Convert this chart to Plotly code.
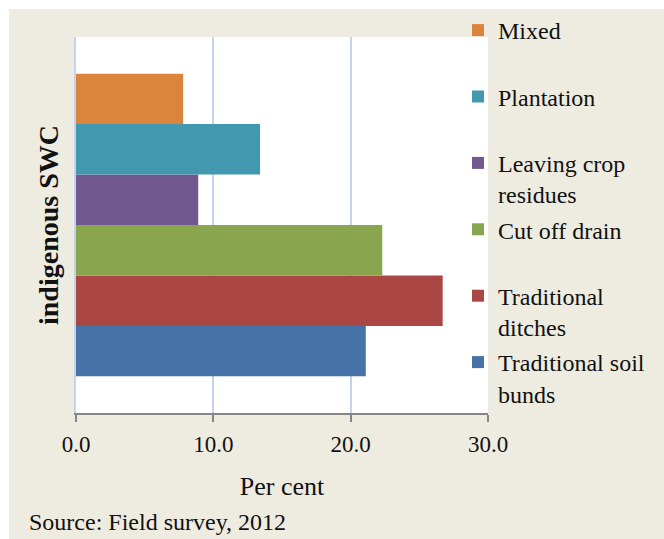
import plotly.graph_objects as go

# Indigenous soil and water conservation practices (share of respondents, %)
category = ["indigenous SWC"]
practices = [
    "Traditional soil<br>bunds",
    "Traditional<br>ditches",
    "Cut off drain<br> ",
    "Leaving crop<br>residues",
    "Plantation<br> ",
    "Mixed<br> ",
]
shares = [21.1, 26.7, 22.3, 8.9, 13.4, 7.8]
colors = ["#4572A7", "#AA4643", "#89A54E", "#71588F", "#4198AF", "#DB843D"]
x_ticks = [0, 10, 20, 30]

W, H = 664, 539
ML, MR, MT, MB = 76, 176, 37, 126
PW, PH = W - ML - MR, H - MT - MB
FONT = "Liberation Serif, Times New Roman, serif"
GRID = "#C3D3EC"


def px_x(p):
    return (p - ML) / PW


def px_y(p):
    return (H - MB - p) / PH


fig = go.Figure()
n = len(practices)
for i, (name, val, col) in enumerate(zip(practices, shares, colors)):
    fig.add_trace(go.Bar(
        y=category, x=[val], name=name, orientation="h",
        marker=dict(color=col, line=dict(width=0)),
        legendgroup=f"g{i}", legendrank=n - i,
    ))

fig.update_layout(
    width=W, height=H,
    margin=dict(l=ML, r=MR, t=MT, b=MB, autoexpand=False),
    paper_bgcolor="#EEECE1",
    plot_bgcolor="white",
    barmode="group", bargap=0.195, bargroupgap=0,
    font=dict(family=FONT, size=23, color="#111111"),
    showlegend=True,
    legend=dict(
        x=px_x(458), xanchor="left",
        y=px_y(8), yanchor="top",
        traceorder="grouped",
        tracegroupgap=1,
        valign="top",
        maxheight=530,
        bgcolor="rgba(0,0,0,0)",
        font=dict(family=FONT, size=24, color="#111111"),
        itemwidth=30,
    ),
    xaxis=dict(
        range=[0, 30], tickvals=x_ticks, tickformat=".1f",
        showgrid=True, gridcolor=GRID, gridwidth=2,
        zeroline=False,
        showline=True, linecolor="#868686", linewidth=1.5,
        ticks="outside", ticklen=7, tickwidth=1.5, tickcolor="#868686",
        ticklabelstandoff=3,
        tickfont=dict(family=FONT, size=23, color="#111111"),
        title=dict(text="Per cent", standoff=20,
                   font=dict(family=FONT, size=26, color="#111111")),
    ),
    yaxis=dict(
        showticklabels=False, showgrid=False, zeroline=False,
        showline=True, linecolor=GRID, linewidth=2,
        title=dict(text="<b>indigenous SWC</b>", standoff=7,
                   font=dict(family=FONT, size=28, color="#111111")),
    ),
    shapes=[
        dict(type="rect", xref="paper", yref="paper", layer="below",
             x0=px_x(0), x1=px_x(W), y0=px_y(9), y1=px_y(0),
             fillcolor="white", line=dict(width=0)),
        dict(type="rect", xref="paper", yref="paper", layer="below",
             x0=px_x(0), x1=px_x(9), y0=px_y(H), y1=px_y(0),
             fillcolor="white", line=dict(width=0)),
    ],
    annotations=[
        dict(text="Source: Field survey, 2012", xref="paper", yref="paper",
             x=px_x(27), y=px_y(522), xanchor="left", yanchor="middle",
             showarrow=False, font=dict(family=FONT, size=24, color="#111111")),
    ],
)

fig.write_html("out.html")
